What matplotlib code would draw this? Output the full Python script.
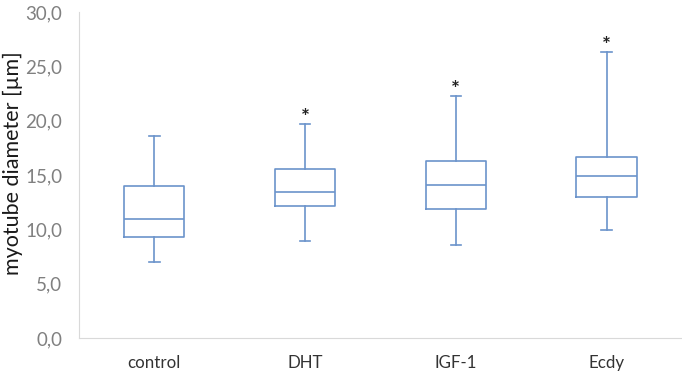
import matplotlib
matplotlib.use("Agg")
import matplotlib.pyplot as plt

# values
groups = ["control", "DHT", "IGF-1", "Ecdy"]
whisk_lo = [6.97, 8.93, 8.56, 9.92]
q1 = [9.27, 12.12, 11.85, 13.01]
median = [10.96, 13.47, 14.12, 14.92]
q3 = [14.03, 15.59, 16.27, 16.70]
whisk_hi = [18.63, 19.74, 22.31, 26.34]
signif = [False, True, True, True]

blue = "#6B93CB"
plt.rcParams["font.family"] = ["Lato", "DejaVu Sans"]

fig = plt.figure(figsize=(6.82, 3.73), dpi=100)
ax = fig.add_axes([0.1158, 0.0938, 0.884, 0.874])

stats = []
for i, g in enumerate(groups):
    stats.append({"label": g, "whislo": whisk_lo[i], "q1": q1[i], "med": median[i],
                  "q3": q3[i], "whishi": whisk_hi[i], "fliers": []})

ax.bxp(stats, positions=range(len(groups)), widths=0.4, showfliers=False,
       capwidths=0.07,
       boxprops=dict(color=blue, linewidth=1.2),
       medianprops=dict(color=blue, linewidth=1.2),
       whiskerprops=dict(color=blue, linewidth=1.2),
       capprops=dict(color=blue, linewidth=1.2))

for i, s in enumerate(signif):
    if s:
        ax.text(i, whisk_hi[i] + 0.55, "*", ha="center", va="center",
                fontsize=15, fontweight="bold", color="#222222")

ax.set_xlim(-0.5, 3.5)
ax.set_ylim(0, 30)
ax.set_yticks(range(0, 31, 5))
ax.set_yticklabels([f"{v:.1f}".replace(".", ",") for v in range(0, 31, 5)])
ax.set_xticks(range(len(groups)))
ax.set_xticklabels(groups)
ax.set_ylabel("myotube diameter [µm]", fontsize=15.5, color="#1a1a1a")
ax.yaxis.set_label_coords(-0.093, 0.535)

for side in ["top", "right"]:
    ax.spines[side].set_visible(False)
ax.spines["left"].set_color("#D9D9D9")
ax.spines["bottom"].set_color("#D9D9D9")
ax.tick_params(axis="y", length=0, labelsize=13.5, colors="#808080", pad=12)
ax.tick_params(axis="x", length=0, labelsize=12.2, colors="#333333", pad=12)

fig.savefig("out.png", dpi=100)
